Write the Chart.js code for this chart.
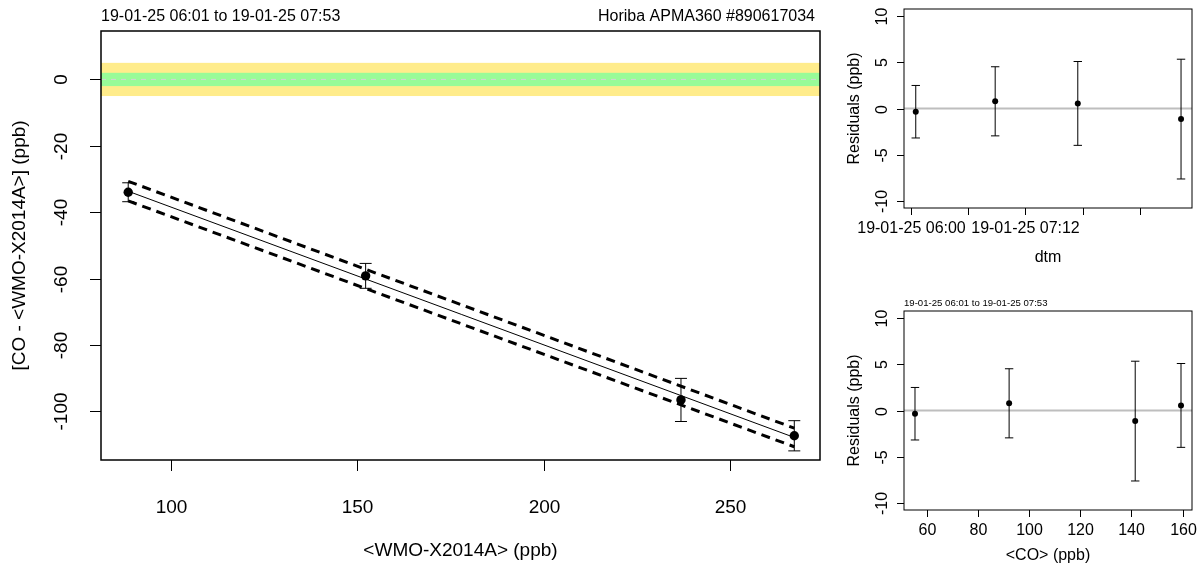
<!DOCTYPE html>
<html>
<head>
<meta charset="utf-8">
<script src="https://cdn.jsdelivr.net/npm/chart.js@4.4.1/dist/chart.umd.min.js"></script>
<style>
	html, body { margin: 0; padding: 0; background: #fff; }
	#wrap { position: relative; width: 1199px; height: 570px; }
	canvas { position: absolute; }
</style>
</head>
<body>
<div id="wrap">
	<canvas id="calib" width="830" height="570" style="left:0;top:0"></canvas>
	<canvas id="residTime" width="369" height="290" style="left:830px;top:0"></canvas>
	<canvas id="residConc" width="369" height="280" style="left:830px;top:290px"></canvas>
</div>
<script>
// ── Data (measurement order) ─────────────────────────────
const periodLabel = '19-01-25 06:01 to 19-01-25 07:53';
const instrumentLabel = 'Horiba APMA360 #890617034';

const dtm = [ '19-01-25 06:03', '19-01-25 06:53', '19-01-25 07:45', '19-01-25 08:50' ];
const refWmo = [ 88.5, 152.2, 267.2, 236.8 ]; // <WMO-X2014A> (ppb)
const diffCo = [ -34.0, -59.2, -107.4, -96.6 ]; // [CO - <WMO-X2014A>] (ppb)
const uncert = [ 2.85, 3.75, 4.55, 6.5 ];
const coMean = [ 55.4, 92.2, 159.4, 141.5 ]; // <CO> (ppb)
const resid = [ -0.35, 0.78, 0.55, -1.15 ];

// fit line + confidence band, read at the ends of the range
const fitX = [ 88.5, 267.2 ];
const fitY = [ -33.7, -107.9 ];
const bandUpper = [ -30.7, -105.1 ];
const bandLower = [ -36.6, -110.7 ];

const toleranceOuter = 5;
const toleranceInner = 2;

// ── Ticks ────────────────────────────────────────────────
const calibXTicks = [ 100, 150, 200, 250 ];
const calibYTicks = [ 0, -20, -40, -60, -80, -100 ];
const residYTicks = [ 10, 5, 0, -5, -10 ];
const timeTicks = [ '06:00', '06:36', '07:12', '07:48', '08:24' ];
const timeTickLabels = [ '19-01-25 06:00', '', '19-01-25 07:12', '', '' ];
const concTicks = [ 60, 80, 100, 120, 140, 160 ];

const FONT = '"Liberation Sans", Arial, Helvetica, sans-serif';

const toMinutes = ( s ) => {
	const hm = s.slice( -5 ).split( ':' );
	return Number( hm[ 0 ] ) * 60 + Number( hm[ 1 ] );
};

// ── R-like frame: box, outward ticks, rotated y labels ──
const rFrame = ( cfg ) => ( {
	id: 'rFrame',
	beforeDatasetsDraw( chart ) {
		if ( cfg.under ) {
			const { ctx } = chart;
			ctx.save();
			cfg.under( chart );
			ctx.restore();
		}
	},
	afterDatasetsDraw( chart ) {
		const { ctx, scales: { x, y } } = chart;
		ctx.save();
		ctx.strokeStyle = '#000';
		ctx.lineWidth = 1;
		cfg.errX.forEach( ( xv, i ) => {
			const px = x.getPixelForValue( xv );
			const top = y.getPixelForValue( cfg.errY[ i ] + cfg.err[ i ] );
			const bot = y.getPixelForValue( cfg.errY[ i ] - cfg.err[ i ] );
			ctx.beginPath();
			ctx.moveTo( px, top );
			ctx.lineTo( px, bot );
			ctx.moveTo( px - cfg.cap, top );
			ctx.lineTo( px + cfg.cap, top );
			ctx.moveTo( px - cfg.cap, bot );
			ctx.lineTo( px + cfg.cap, bot );
			ctx.stroke();
		} );
		ctx.restore();
	},
	afterDraw( chart ) {
		const { ctx, chartArea: a, scales: { x, y } } = chart;
		ctx.save();
		ctx.strokeStyle = '#000';
		ctx.fillStyle = '#000';
		ctx.lineWidth = cfg.boxWidth;
		ctx.strokeRect( a.left, a.top, a.right - a.left, a.bottom - a.top );

		ctx.lineWidth = 1;
		ctx.font = cfg.tickFont;
		ctx.textAlign = 'center';
		ctx.textBaseline = 'middle';
		cfg.xTicks.forEach( ( v, i ) => {
			const px = Math.round( x.getPixelForValue( v ) ) + 0.5;
			ctx.beginPath();
			ctx.moveTo( px, a.bottom );
			ctx.lineTo( px, a.bottom + cfg.tickLen );
			ctx.stroke();
			if ( cfg.xLabels[ i ] ) {
				ctx.fillText( cfg.xLabels[ i ], px, a.bottom + cfg.xLabelGap );
			}
		} );
		cfg.yTicks.forEach( ( v ) => {
			const py = Math.round( y.getPixelForValue( v ) ) + 0.5;
			ctx.beginPath();
			ctx.moveTo( a.left, py );
			ctx.lineTo( a.left - cfg.tickLen, py );
			ctx.stroke();
			ctx.save();
			ctx.translate( a.left - cfg.yLabelGap, py );
			ctx.rotate( -Math.PI / 2 );
			ctx.fillText( String( v ), 0, 0 );
			ctx.restore();
		} );

		ctx.font = cfg.titleFont;
		ctx.fillText( cfg.xTitle, ( a.left + a.right ) / 2, a.bottom + cfg.titleGap );
		ctx.save();
		ctx.translate( a.left - cfg.yTitleGap, ( a.top + a.bottom ) / 2 );
		ctx.rotate( -Math.PI / 2 );
		ctx.fillText( cfg.yTitle, 0, 0 );
		ctx.restore();

		if ( cfg.over ) {
			cfg.over( chart );
		}
		ctx.restore();
	},
} );

const baseOptions = ( padding, xr, yr ) => ( {
	responsive: false,
	animation: false,
	events: [],
	layout: { padding },
	plugins: { legend: { display: false }, tooltip: { enabled: false } },
	scales: {
		x: { type: 'linear', display: false, min: xr[ 0 ], max: xr[ 1 ] },
		y: { type: 'linear', display: false, min: yr[ 0 ], max: yr[ 1 ] },
	},
} );

const zeroLine = ( chart ) => {
	const { ctx, chartArea: a, scales: { y } } = chart;
	const py = y.getPixelForValue( 0 );
	ctx.strokeStyle = '#bebebe';
	ctx.lineWidth = 1.8;
	ctx.beginPath();
	ctx.moveTo( a.left, py );
	ctx.lineTo( a.right, py );
	ctx.stroke();
};

// ── Calibration plot ─────────────────────────────────────
new Chart( document.getElementById( 'calib' ), {
	type: 'scatter',
	data: {
		datasets: [
			{
				data: refWmo.map( ( v, i ) => ( { x: v, y: diffCo[ i ] } ) ),
				pointRadius: 4.7,
				pointBackgroundColor: '#000',
				pointBorderWidth: 0,
			},
			{
				type: 'line',
				data: fitX.map( ( v, i ) => ( { x: v, y: fitY[ i ] } ) ),
				borderColor: '#000',
				borderWidth: 1,
				pointRadius: 0,
			},
			{
				type: 'line',
				data: fitX.map( ( v, i ) => ( { x: v, y: bandUpper[ i ] } ) ),
				borderColor: '#000',
				borderWidth: 3,
				borderDash: [ 9, 6 ],
				pointRadius: 0,
			},
			{
				type: 'line',
				data: fitX.map( ( v, i ) => ( { x: v, y: bandLower[ i ] } ) ),
				borderColor: '#000',
				borderWidth: 3,
				borderDash: [ 9, 6 ],
				pointRadius: 0,
			},
		],
	},
	options: baseOptions( { left: 101, right: 10, top: 31, bottom: 110 }, [ 81.2, 274.1 ], [ -114.7, 14.6 ] ),
	plugins: [
		rFrame( {
			errX: refWmo,
			errY: diffCo,
			err: uncert,
			cap: 6,
			boxWidth: 1.5,
			tickLen: 11,
			xLabelGap: 48,
			yLabelGap: 39,
			titleGap: 91,
			yTitleGap: 81,
			tickFont: '19px ' + FONT,
			titleFont: '19px ' + FONT,
			xTicks: calibXTicks,
			xLabels: calibXTicks.map( String ),
			yTicks: calibYTicks,
			xTitle: '<WMO-X2014A> (ppb)',
			yTitle: '[CO - <WMO-X2014A>] (ppb)',
			under( chart ) {
				const { ctx, chartArea: a, scales: { y } } = chart;
				const band = ( lim, color ) => {
					const t = y.getPixelForValue( lim );
					const b = y.getPixelForValue( -lim );
					ctx.fillStyle = color;
					ctx.fillRect( a.left, t, a.right - a.left, b - t );
				};
				band( toleranceOuter, '#ffec8b' );
				band( toleranceInner, '#98fb98' );
				const py = y.getPixelForValue( 0 );
				ctx.strokeStyle = '#d3d3d3';
				ctx.lineWidth = 1;
				ctx.setLineDash( [ 5, 5 ] );
				ctx.beginPath();
				ctx.moveTo( a.left, py );
				ctx.lineTo( a.right, py );
				ctx.stroke();
			},
			over( chart ) {
				const { ctx, chartArea: a } = chart;
				ctx.font = '16px ' + FONT;
				ctx.textBaseline = 'middle';
				ctx.textAlign = 'left';
				ctx.fillText( periodLabel, a.left, 16.5 );
				ctx.textAlign = 'right';
				ctx.fillText( instrumentLabel, a.right - 5, 16.5 );
			},
		} ),
	],
} );

// ── Residuals vs time ────────────────────────────────────
const dtmMin = dtm.map( toMinutes );
new Chart( document.getElementById( 'residTime' ), {
	type: 'scatter',
	data: {
		datasets: [
			{
				data: dtmMin.map( ( v, i ) => ( { x: v, y: resid[ i ] } ) ),
				pointRadius: 3,
				pointBackgroundColor: '#000',
				pointBorderWidth: 0,
			},
		],
	},
	options: baseOptions( { left: 74, right: 7, top: 9, bottom: 82 }, [ 355.6, 536.9 ], [ -10.8, 10.8 ] ),
	plugins: [
		rFrame( {
			errX: dtmMin,
			errY: resid,
			err: uncert,
			cap: 4.2,
			boxWidth: 1,
			tickLen: 7,
			xLabelGap: 21,
			yLabelGap: 21,
			titleGap: 50,
			yTitleGap: 49,
			tickFont: '16px ' + FONT,
			titleFont: '16px ' + FONT,
			xTicks: timeTicks.map( toMinutes ),
			xLabels: timeTickLabels,
			yTicks: residYTicks,
			xTitle: 'dtm',
			yTitle: 'Residuals (ppb)',
			under: zeroLine,
		} ),
	],
} );

// ── Residuals vs concentration ───────────────────────────
new Chart( document.getElementById( 'residConc' ), {
	type: 'scatter',
	data: {
		datasets: [
			{
				data: coMean.map( ( v, i ) => ( { x: v, y: resid[ i ] } ) ),
				pointRadius: 3,
				pointBackgroundColor: '#000',
				pointBorderWidth: 0,
			},
		],
	},
	options: baseOptions( { left: 74, right: 7, top: 21, bottom: 60 }, [ 51.1, 163.7 ], [ -10.8, 10.8 ] ),
	plugins: [
		rFrame( {
			errX: coMean,
			errY: resid,
			err: uncert,
			cap: 4.2,
			boxWidth: 1,
			tickLen: 7,
			xLabelGap: 21,
			yLabelGap: 21,
			titleGap: 46,
			yTitleGap: 49,
			tickFont: '16px ' + FONT,
			titleFont: '16px ' + FONT,
			xTicks: concTicks,
			xLabels: concTicks.map( String ),
			yTicks: residYTicks,
			xTitle: '<CO> (ppb)',
			yTitle: 'Residuals (ppb)',
			under: zeroLine,
			over( chart ) {
				const { ctx, chartArea: a } = chart;
				ctx.font = '9.6px ' + FONT;
				ctx.textAlign = 'left';
				ctx.textBaseline = 'middle';
				ctx.fillText( periodLabel, a.left, 13 );
			},
		} ),
	],
} );
</script>
</body>
</html>
